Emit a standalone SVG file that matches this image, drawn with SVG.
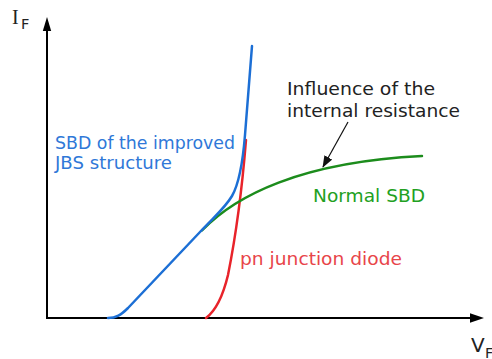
<svg xmlns="http://www.w3.org/2000/svg" width="492" height="359" viewBox="0 0 492 359">
<style>
.lbl{font-family:"DejaVu Sans","Liberation Sans",sans-serif;font-size:18px}
.axis{stroke:#000;stroke-width:2;fill:none}
.curve{fill:none;stroke-width:2.5;stroke-linecap:round;stroke-linejoin:round}
</style>
<defs>
<marker id="ah2" markerWidth="12" markerHeight="9" refX="11" refY="4.5" orient="auto" markerUnits="userSpaceOnUse" viewBox="0 0 12 9">
<path d="M0,0 L12,4.5 L0,9 Z" fill="#111"/>
</marker>
</defs>
<rect width="492" height="359" fill="#fff"/>
<g id="axes">
<line class="axis" x1="47" y1="318" x2="47" y2="24" stroke-linecap="square"/>
<path d="M47,17 L42.8,31 L51.2,31 Z" fill="#000"/>
<line class="axis" x1="47" y1="318" x2="476" y2="318"/>
<path d="M484,318 L470,313.3 L470,322.7 Z" fill="#000"/>
</g>
<g id="axis-labels">
<text x="12" y="24" font-family="'Liberation Serif','DejaVu Serif',serif" font-size="20" fill="#222">I</text>
<text x="21" y="29" font-family="'DejaVu Sans',sans-serif" font-size="14.5" fill="#222">F</text>
<text x="471" y="352" font-family="'DejaVu Sans',sans-serif" font-size="20" fill="#222">V</text>
<text x="485" y="358" font-family="'DejaVu Sans',sans-serif" font-size="14.5" fill="#222">F</text>
</g>
<g id="connectors">
<path id="curve-pn" class="curve" stroke="#e8232a" d="M206,318 C214,312 222,300 228,275 C235,240 242,190 246,140"/>
<path id="curve-normal" class="curve" stroke="#1c8c1c" d="M202,230.5 C235,196 300,162 422,156"/>
<path id="curve-jbs" class="curve" stroke="#1c6fd5" d="M108,318 C116,318 121,315 128,308 L200,232 C215,216 225,208 232,196 C240,182 243,160 245,135 L252,46"/>
<line id="annot-arrow" x1="348" y1="122" x2="323" y2="167" stroke="#111" stroke-width="1.2" marker-end="url(#ah2)"/>
</g>
<g id="label-jbs">
<text class="lbl" x="55" y="149" fill="#2f78d8" textLength="180" lengthAdjust="spacingAndGlyphs">SBD of the improved</text>
<text class="lbl" x="55" y="169" fill="#2f78d8" textLength="117" lengthAdjust="spacingAndGlyphs">JBS structure</text>
</g>
<g id="label-influence">
<text class="lbl" x="287" y="95" fill="#222" textLength="148" lengthAdjust="spacingAndGlyphs">Influence of the</text>
<text class="lbl" x="287" y="117" fill="#222" textLength="173" lengthAdjust="spacingAndGlyphs">internal resistance</text>
</g>
<g id="label-normal">
<text class="lbl" x="313" y="202" fill="#22a022" textLength="112" lengthAdjust="spacingAndGlyphs">Normal SBD</text>
</g>
<g id="label-pn">
<text class="lbl" x="240" y="265" fill="#e8454a" textLength="162" lengthAdjust="spacingAndGlyphs">pn junction diode</text>
</g>
</svg>
